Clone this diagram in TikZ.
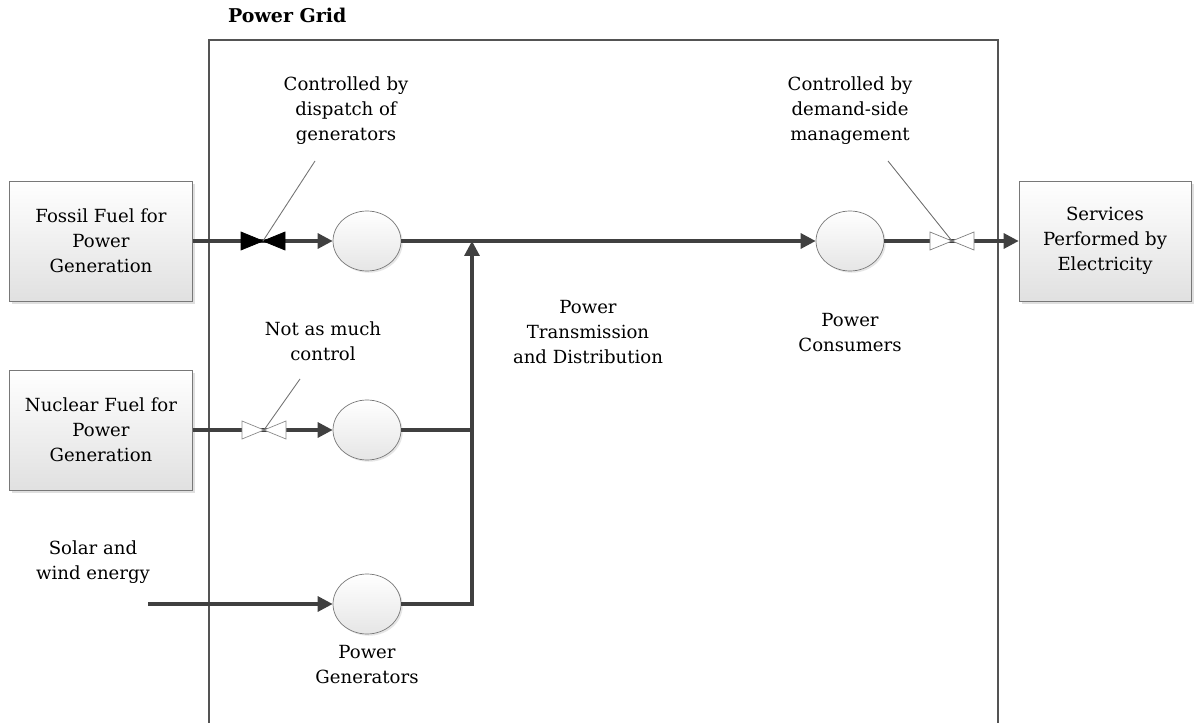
\documentclass[tikz,border=0pt]{standalone}
\usepackage{fontspec}
\setmainfont{DejaVu Serif}
\usepackage{xcolor}
\definecolor{flowgrey}{RGB}{64, 64, 64}
\definecolor{edgegrey}{RGB}{120, 120, 120}
\usepackage{tikz}
\usetikzlibrary{positioning, shapes.geometric, arrows.meta, shadows, calc}

\begin{document}
\begin{tikzpicture}[x=0.02cm, y=-0.02cm, >={Triangle[length=8.5pt,width=8.5pt]},
    every node/.style={font=\fontsize{10.3}{14.2}\selectfont, align=center},
    srcbox/.style={rectangle, draw=edgegrey, top color=white, bottom color=black!12, drop shadow={shadow xshift=1.5pt, shadow yshift=-1.5pt, opacity=0.25}, minimum width=3.66cm, minimum height=2.4cm},
    plant/.style={ellipse, draw=edgegrey, top color=white, bottom color=black!10, drop shadow={shadow xshift=1pt, shadow yshift=-1pt, opacity=0.2}, minimum width=1.36cm, minimum height=1.2cm, inner sep=0pt},
    flow/.style={draw=flowgrey, line width=1.8pt},
    leader/.style={draw=black!55, line width=0.5pt},
    valve/.pic={\draw[pic actions, line width=0.4pt] (-22,-9) -- (0,0) -- (-22,9) -- cycle (22,-9) -- (0,0) -- (22,9) -- cycle;}]
    \useasboundingbox (0,0) rectangle (1194,723);

    % Power grid frame
    \draw [edgegrey!70!black, line width=0.7pt] (209,723) |- (998,40) -- (998,723);
    \node [font=\fontsize{10.8}{12}\selectfont\bfseries, anchor=west] (gridtitle) at (222,15) {Power Grid};

    % Fuel sources and services
    \node [srcbox] (fossil) at (101,241) {Fossil Fuel for\\Power\\Generation};
    \node [srcbox] (nuclear) at (101,430) {Nuclear Fuel for\\Power\\Generation};
    \node [srcbox, minimum width=3.44cm] (services) at (1105,241) {Services\\Performed by\\Electricity};
    \coordinate (solar) at (148,604);
    \node (solartext) at (93,562) {Solar and\\wind energy};

    % Generators and consumers
    \node [plant] (gen1) at (367,241) {};
    \node [plant] (gen2) at (367,430) {};
    \node [plant] (gen3) at (367,604) {};
    \node [plant] (consumer) at (850,241) {};
    \coordinate (join) at (472,241);

    % Power flows
    \draw [flow, ->] (fossil.east) -- (gen1.west);
    \draw [flow, ->] (nuclear.east) -- (gen2.west);
    \draw [flow, ->] (solar) -- (gen3.west);
    \draw [flow] (gen2.east) -- (gen2.east -| join);
    \draw [flow, ->] (gen3.east) -| (join);
    \draw [flow, ->] (gen1.east) -- (consumer.west);
    \draw [flow, ->] (consumer.east) -- (services.west);

    % Valves
    \coordinate (dispatchvalve) at (263,241);
    \coordinate (nuclearvalve) at (264,430);
    \coordinate (demandvalve) at (952,241);
    \pic [draw=black, fill=black] at (dispatchvalve) {valve};
    \pic [draw=black!45, fill=white] at (nuclearvalve) {valve};
    \pic [draw=black!50, fill=white] at (demandvalve) {valve};

    % Notes
    \node (dispatchnote) at (346,111) {Controlled by\\dispatch of\\generators};
    \node (nuclearnote) at (323,341) {Not as much\\control};
    \node (demandnote) at (850,111) {Controlled by\\demand-side\\management};
    \draw [leader] (dispatchvalve) -- (315,161);
    \draw [leader] (nuclearvalve) -- (300,379);
    \draw [leader] (demandvalve) -- (888,161);

    % Labels
    \node (genlabel) at (367,665) {Power\\Generators};
    \node (gridlabel) at (588,332) {Power\\Transmission\\and Distribution};
    \node (consumerlabel) at (850,333) {Power\\Consumers};
\end{tikzpicture}
\end{document}
